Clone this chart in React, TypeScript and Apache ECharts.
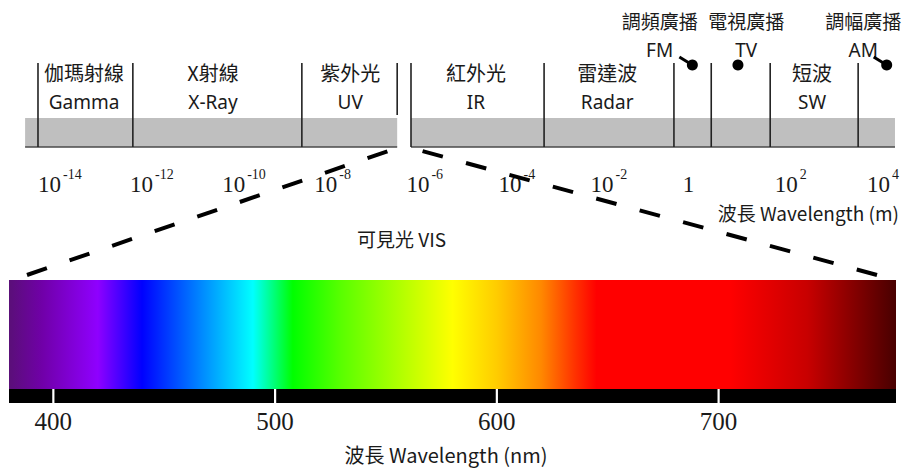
import React, { useEffect, useRef } from "react";
import * as echarts from "echarts";

// ---- Top scale: log10(wavelength in metres) ----
const tickExponents = [-14, -12, -10, -8, -6, -4, -2, 0, 2, 4];
const grayBands = [
  [-14.28, -6.2],
  [-5.9, 4.61],
];
const dividerExps = [-14.0, -11.94, -8.27, -6.2, -5.9, -3.01, -0.19, 0.62, 1.9, 3.81];
const visibleWindow = [-6.2, -5.9];
const bandNamesZh = ["伽瑪射線", "X射線", "紫外光", "紅外光", "雷達波", "短波"];
const bandNamesEn = ["Gamma", "X-Ray", "UV", "IR", "Radar", "SW"];
const bandCenters = [-13.0, -10.2, -7.22, -4.49, -1.64, 2.81];
const broadcastZh = ["調頻廣播", "電視廣播", "調幅廣播"];
const broadcastEn = ["FM", "TV", "AM"];
const broadcastExp = [0.21, 1.2, 4.43];
const broadcastLabelExp = [-0.5, 1.38, 3.92];

// ---- Visible spectrum (nm) ----
const visibleRangeNm = [380, 780];
const nmTicks = [400, 500, 600, 700];
const specNm = [380, 395, 420, 440, 460, 490, 508, 530, 580, 600, 620, 635, 645, 705, 740, 765, 780];
const specColors = [
  "#5a0f78", "#7000a8", "#8f00ff", "#0000ff", "#0066ff", "#00ffff", "#00ff00", "#5aff00",
  "#ffff00", "#ffcc00", "#ff8800", "#ff3300", "#ff0000", "#ff0000", "#c80000", "#780000", "#480000",
];

const CJK = "'Noto Sans CJK TC', 'Noto Sans', sans-serif";
const LAT = "'Noto Sans', 'Open Sans', sans-serif";
const SERIF = "'Liberation Serif', 'DejaVu Serif', serif";
const TXT = "#1a1a1a";

export default function App() {
  const ref = useRef<HTMLDivElement>(null);
  useEffect(() => {
    const chart = echarts.init(ref.current!, null, { renderer: "svg" });
    const span = visibleRangeNm[1] - visibleRangeNm[0];
    const stops = specNm.map((nm, i) => ({ offset: (nm - visibleRangeNm[0]) / span, color: specColors[i] }));

    const option: any = {
      animation: false,
      backgroundColor: "#fff",
      title: [
        {
          text: "可見光 VIS",
          left: 352,
          top: 224,
          textStyle: { fontFamily: CJK, fontSize: 19, fontWeight: "normal", color: TXT },
        },
        {
          text: "波長 Wavelength (m)",
          right: 3,
          top: 198,
          textStyle: { fontFamily: CJK, fontSize: 19, fontWeight: "normal", color: TXT },
        },
      ],
      grid: [
        { left: 0, right: 0, top: 0, height: 150 },
        { left: 9, right: 11, top: 280, height: 123 },
      ],
      xAxis: [
        {
          gridIndex: 0,
          type: "value",
          min: -14.825,
          max: 4.871,
          axisLine: { show: false },
          axisTick: { show: false },
          splitLine: { show: false },
          axisLabel: {
            customValues: tickExponents,
            align: "left",
            margin: 17,
            formatter: (v: number) => (Math.abs(v) < 1e-9 ? "{b|1}" : `{b|10}{s|${Math.round(v)}}`),
            rich: {
              b: { fontFamily: SERIF, fontSize: 23, color: TXT, lineHeight: 34 },
              s: { fontFamily: SERIF, fontSize: 14, color: TXT, lineHeight: 6, verticalAlign: "top", padding: [0, 0, 0, 2] },
            },
          },
        },
        {
          gridIndex: 1,
          type: "value",
          min: visibleRangeNm[0],
          max: visibleRangeNm[1],
          axisLine: { show: false },
          splitLine: { show: false },
          axisTick: { show: false },
          axisLabel: {
            customValues: nmTicks,
            margin: 6,
            fontFamily: SERIF,
            fontSize: 25,
            color: TXT,
          },
          name: "波長 Wavelength (nm)",
          nameLocation: "middle",
          nameGap: 41,
          nameTextStyle: { fontFamily: CJK, fontSize: 20, color: TXT, padding: [0, 13, 0, 0] },
        },
      ],
      yAxis: [
        { gridIndex: 0, type: "value", min: 0, max: 150, inverse: true, show: false },
        { gridIndex: 1, type: "value", min: 0, max: 123, inverse: true, show: false },
      ],
      series: [
        {
          type: "custom",
          name: "bands",
          xAxisIndex: 0,
          yAxisIndex: 0,
          data: grayBands,
          renderItem: (params: any, api: any) => {
            const a = api.coord([api.value(0), 118]);
            const b = api.coord([api.value(1), 147]);
            return {
              type: "group",
              children: [
                { type: "rect", shape: { x: a[0], y: a[1], width: b[0] - a[0], height: b[1] - a[1] }, style: { fill: "#bfbfbf" } },
                { type: "line", shape: { x1: a[0], y1: b[1], x2: b[0], y2: b[1] }, style: { stroke: "#4a4a4a", lineWidth: 1.5 } },
              ],
            };
          },
        },
        {
          type: "custom",
          name: "dividers",
          xAxisIndex: 0,
          yAxisIndex: 0,
          data: dividerExps.map((d) => [d]),
          z: 3,
          renderItem: (params: any, api: any) => {
            const d = api.value(0);
            const bottom = Math.abs(d - visibleWindow[0]) < 1e-6 ? 115 : 147;
            const a = api.coord([d, 63]);
            const b = api.coord([d, bottom]);
            return { type: "line", shape: { x1: a[0], y1: a[1], x2: b[0], y2: b[1] }, style: { stroke: "#222", lineWidth: 1.6 } };
          },
        },
        {
          type: "custom",
          name: "bandLabels",
          xAxisIndex: 0,
          yAxisIndex: 0,
          data: bandCenters.map((c) => [c]),
          renderItem: (params: any, api: any) => {
            const i = params.dataIndex;
            const p1 = api.coord([api.value(0), 72]);
            const p2 = api.coord([api.value(0), 102]);
            return {
              type: "group",
              children: [
                { type: "text", x: p1[0], y: p1[1], style: { text: bandNamesZh[i], fill: TXT, fontFamily: CJK, fontSize: 20, align: "center", verticalAlign: "middle" } },
                { type: "text", x: p2[0], y: p2[1], style: { text: bandNamesEn[i], fill: TXT, fontFamily: LAT, fontSize: 19, align: "center", verticalAlign: "middle" } },
              ],
            };
          },
        },
        {
          type: "custom",
          name: "broadcast",
          xAxisIndex: 0,
          yAxisIndex: 0,
          data: broadcastExp.map((e, i) => [e, broadcastLabelExp[i]]),
          z: 4,
          renderItem: (params: any, api: any) => {
            const i = params.dataIndex;
            const dot = api.coord([api.value(0), 65]);
            const l1 = api.coord([api.value(1), 20]);
            const l2 = api.coord([api.value(1), 50]);
            const children: any[] = [
              { type: "text", x: l1[0], y: l1[1], style: { text: broadcastZh[i], fill: TXT, fontFamily: CJK, fontSize: 19, align: "center", verticalAlign: "middle" } },
              { type: "text", x: l2[0], y: l2[1], style: { text: broadcastEn[i], fill: TXT, fontFamily: LAT, fontSize: 19, align: "center", verticalAlign: "middle" } },
              { type: "circle", shape: { cx: dot[0], cy: dot[1], r: 5.5 }, style: { fill: "#000" } },
            ];
            if (l2[0] < dot[0] - 15) {
              children.push({ type: "line", shape: { x1: dot[0] - 13, y1: dot[1] - 8, x2: dot[0], y2: dot[1] }, style: { stroke: "#000", lineWidth: 3 } });
            }
            return { type: "group", children };
          },
        },
        {
          type: "custom",
          name: "spectrum",
          xAxisIndex: 1,
          yAxisIndex: 1,
          data: [visibleRangeNm],
          renderItem: (params: any, api: any) => {
            const a = api.coord([api.value(0), 0]);
            const b = api.coord([api.value(1), 109]);
            const c = api.coord([api.value(1), 123]);
            const ticks = nmTicks.map((t) => {
              const p = api.coord([t, 109]);
              return { type: "line", shape: { x1: p[0], y1: b[1], x2: p[0], y2: c[1] }, style: { stroke: "#fff", lineWidth: 2.2 } };
            });
            return {
              type: "group",
              children: [
                {
                  type: "rect",
                  shape: { x: a[0], y: a[1], width: b[0] - a[0], height: b[1] - a[1] },
                  style: { fill: { type: "linear", x: 0, y: 0, x2: 1, y2: 0, colorStops: stops } },
                },
                { type: "rect", shape: { x: a[0], y: b[1], width: c[0] - a[0], height: c[1] - b[1] }, style: { fill: "#000" } },
                ...ticks,
              ],
            };
          },
        },
      ],
    };
    chart.setOption(option);

    const winL = chart.convertToPixel({ xAxisIndex: 0, yAxisIndex: 0 }, [visibleWindow[0], 148]) as number[];
    const winR = chart.convertToPixel({ xAxisIndex: 0, yAxisIndex: 0 }, [visibleWindow[1], 148]) as number[];
    const spL = chart.convertToPixel({ xAxisIndex: 1, yAxisIndex: 1 }, [visibleRangeNm[0], 0]) as number[];
    const spR = chart.convertToPixel({ xAxisIndex: 1, yAxisIndex: 1 }, [visibleRangeNm[1], 0]) as number[];
    const dash = { stroke: "#000", lineWidth: 4, lineDash: [21, 24] };
    chart.setOption({
      graphic: [
        { type: "line", z: 5, shape: { x1: spL[0] + 18, y1: spL[1] - 5, x2: winL[0], y2: winL[1] }, style: dash },
        { type: "line", z: 5, shape: { x1: spR[0] - 19, y1: spR[1] - 5, x2: winR[0], y2: winR[1] }, style: dash },
      ],
    });

    return () => chart.dispose();
  }, []);
  return <div ref={ref} style={{ position: "absolute", left: 0, top: 0, width: 907, height: 470 }} />;
}
